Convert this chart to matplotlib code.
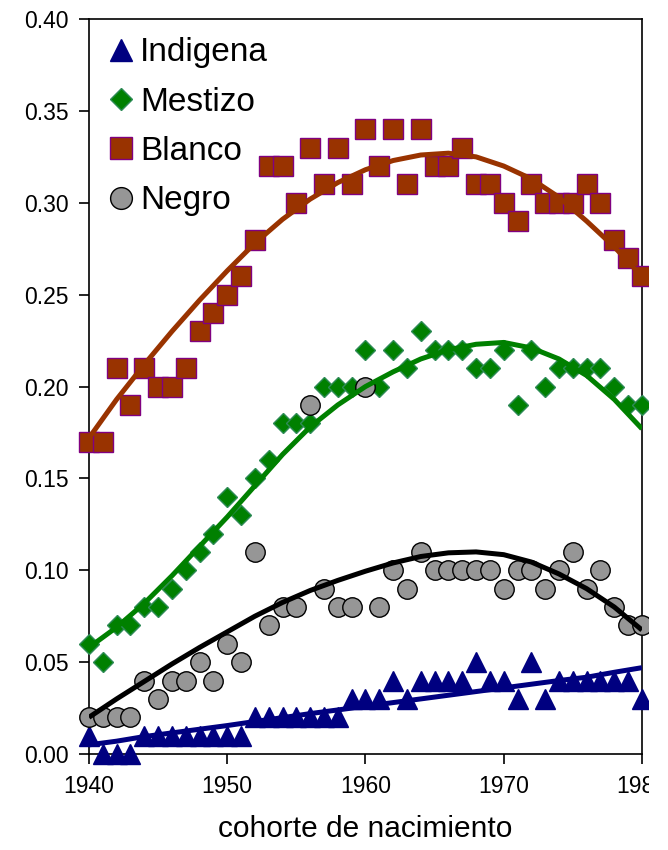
import numpy as np
import matplotlib
matplotlib.use("Agg")
import matplotlib.pyplot as plt
from matplotlib.patches import Rectangle

plt.rcParams["font.family"] = ["Liberation Sans", "DejaVu Sans"]

# birth cohorts, one point per year
years = list(range(1940, 1981))

indigena = [0.01, 0.00, 0.00, 0.00, 0.01, 0.01, 0.01, 0.01, 0.01, 0.01,
            0.01, 0.01, 0.02, 0.02, 0.02, 0.02, 0.02, 0.02, 0.02, 0.03,
            0.03, 0.03, 0.04, 0.03, 0.04, 0.04, 0.04, 0.04, 0.05, 0.04,
            0.04, 0.03, 0.05, 0.03, 0.04, 0.04, 0.04, 0.04, 0.04, 0.04,
            0.03]
mestizo = [0.06, 0.05, 0.07, 0.07, 0.08, 0.08, 0.09, 0.10, 0.11, 0.12,
           0.14, 0.13, 0.15, 0.16, 0.18, 0.18, 0.18, 0.20, 0.20, 0.20,
           0.22, 0.20, 0.22, 0.21, 0.23, 0.22, 0.22, 0.22, 0.21, 0.21,
           0.22, 0.19, 0.22, 0.20, 0.21, 0.21, 0.21, 0.21, 0.20, 0.19,
           0.19]
blanco = [0.17, 0.17, 0.21, 0.19, 0.21, 0.20, 0.20, 0.21, 0.23, 0.24,
          0.25, 0.26, 0.28, 0.32, 0.32, 0.30, 0.33, 0.31, 0.33, 0.31,
          0.34, 0.32, 0.34, 0.31, 0.34, 0.32, 0.32, 0.33, 0.31, 0.31,
          0.30, 0.29, 0.31, 0.30, 0.30, 0.30, 0.31, 0.30, 0.28, 0.27,
          0.26]
negro = [0.02, 0.02, 0.02, 0.02, 0.04, 0.03, 0.04, 0.04, 0.05, 0.04,
         0.06, 0.05, 0.11, 0.07, 0.08, 0.08, 0.19, 0.09, 0.08, 0.08,
         0.20, 0.08, 0.10, 0.09, 0.11, 0.10, 0.10, 0.10, 0.10, 0.10,
         0.09, 0.10, 0.10, 0.09, 0.10, 0.11, 0.09, 0.10, 0.08, 0.07,
         0.07]

# smoothed trend lines, every two years
trend_years = list(range(1940, 1981, 2))
indigena_fit = [0.005, 0.007, 0.0095, 0.0115, 0.0135, 0.0155, 0.0177, 0.0198,
                0.022, 0.024, 0.026, 0.028, 0.030, 0.032, 0.034, 0.036,
                0.038, 0.040, 0.0418, 0.0445, 0.047]
mestizo_fit = [0.058, 0.069, 0.082, 0.097, 0.113, 0.129, 0.146, 0.163,
               0.178, 0.190, 0.200, 0.208, 0.215, 0.220, 0.223, 0.224,
               0.221, 0.215, 0.206, 0.193, 0.177]
blanco_fit = [0.172, 0.193, 0.212, 0.230, 0.247, 0.263, 0.278, 0.291,
              0.302, 0.311, 0.318, 0.323, 0.326, 0.327, 0.325, 0.320,
              0.313, 0.303, 0.290, 0.276, 0.260]
negro_fit = [0.020, 0.030, 0.0395, 0.049, 0.058, 0.0665, 0.075, 0.0825,
             0.089, 0.0945, 0.0995, 0.104, 0.1075, 0.1095, 0.110, 0.1085,
             0.1045, 0.098, 0.090, 0.080, 0.0675]

series = [
    ("Indigena", indigena, indigena_fit, "^", 14, "#000080", "#000080", "#000080"),
    ("Mestizo", mestizo, mestizo_fit, "D", 10, "#008000", "#2e8b57", "#008000"),
    ("Blanco", blanco, blanco_fit, "s", 14, "#993300", "#800080", "#993300"),
    ("Negro", negro, negro_fit, "o", 14, "#969696", "#000000", "#000000"),
]

fig = plt.figure(figsize=(6.68, 8.5), dpi=100)
ax = fig.add_axes([0.1332, 0.1129, 0.8278, 0.8647])

for name, vals, fit, mk, ms, fc, ec, lc in series:
    ax.plot(years, vals, linestyle="none", marker=mk, markersize=ms,
            markerfacecolor=fc, markeredgecolor=ec, markeredgewidth=1.0,
            label=name, clip_on=False, zorder=3)
    ax.plot(trend_years, fit, color=lc, linewidth=3.6, zorder=4,
            solid_capstyle="butt", solid_joinstyle="round")

ax.set_xlim(1940, 1980)
ax.set_ylim(0, 0.40)
ax.set_xticks([1940, 1950, 1960, 1970, 1980])
ax.set_yticks(np.arange(0, 0.401, 0.05))
ax.yaxis.set_major_formatter(matplotlib.ticker.FormatStrFormatter("%.2f"))
ax.tick_params(direction="out", length=7, width=1.2, labelsize=16.5, pad=8,
               top=False, right=False)
ax.tick_params(axis="y", pad=7.5)
for sp in ax.spines.values():
    sp.set_linewidth(1.2)

ax.set_xlabel("cohorte de nacimiento", fontsize=21.5, labelpad=12)

ax.legend(loc="upper left", fontsize=24, frameon=False, numpoints=1,
          markerscale=1.12, handlelength=1.0, handletextpad=0.08,
          labelspacing=0.55, borderaxespad=0.3, borderpad=0.25,
          bbox_to_anchor=(-0.006, 1.0))

# the original picture is cut off just past the right axis
fig.add_artist(Rectangle((649 / 668, 0), 1, 1, transform=fig.transFigure,
                         facecolor="white", edgecolor="none", zorder=10))

fig.savefig("out.png", dpi=100)
